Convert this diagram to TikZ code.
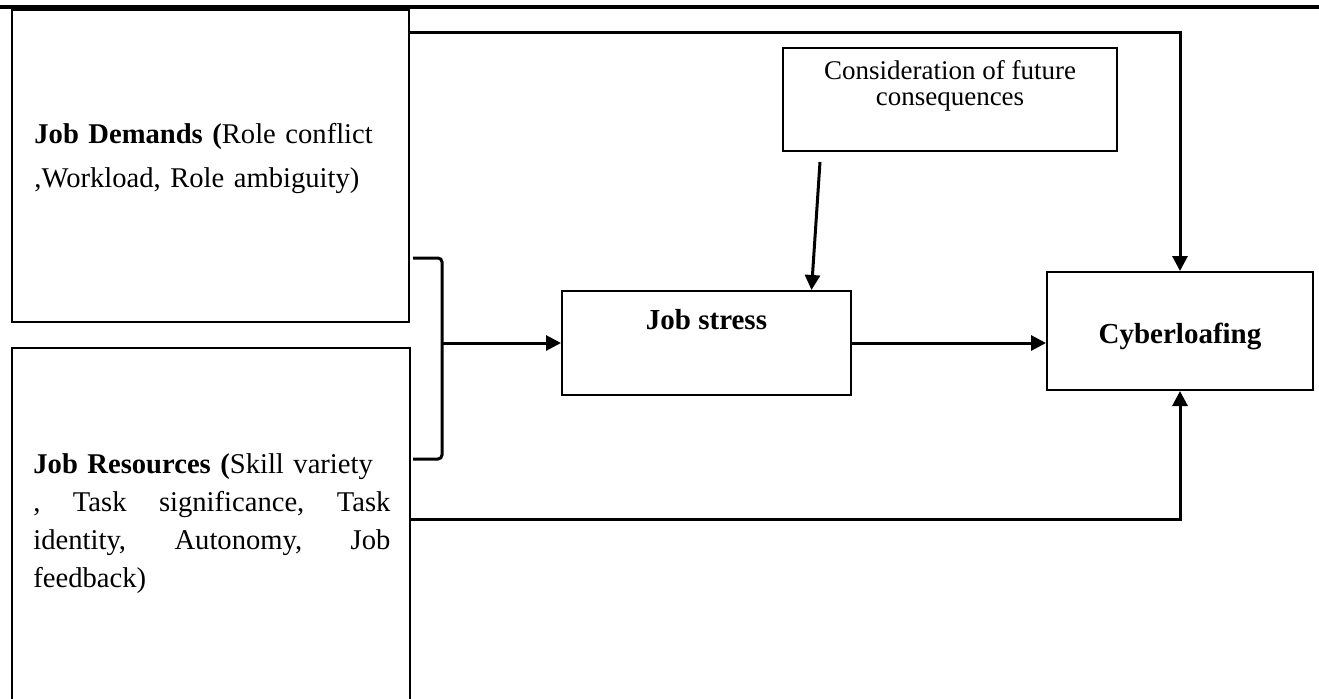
\documentclass[tikz,border=0pt]{standalone}
\usepackage{fontspec}
\setmainfont{Liberation Serif}
\usepackage{tikz}
\usetikzlibrary{arrows.meta}
\usetikzlibrary{positioning}

\begin{document}
\begin{tikzpicture}[x=0.5pt, y=-0.5pt]

   %Styles of boxes and arrows
   \tikzstyle{modelbox} = [rectangle, draw=black, line width=1pt, fill=white]
   \tikzstyle{boxtext} = [inner sep=0pt, font=\fontsize{14.5pt}{17pt}\selectfont]
   \tikzstyle{arrow} = [line width=1.5pt, -{Triangle[length=7.5pt, width=7.5pt]}]
   \tikzstyle{bracket} = [line width=1.5pt, rounded corners=2pt]

   %Frame of the picture
   \useasboundingbox (0,0) rectangle (1319,698);
   \draw[line width=2pt] (0,7) -- (1319,7);

   %Boxes
   \node[modelbox, minimum width=198.5pt, minimum height=156pt] (demands) at (210.5,166) {};
   \node[modelbox, minimum width=199pt, minimum height=186pt] (resources) at (211,534) {};
   \node[modelbox, minimum width=144.5pt, minimum height=52pt] (stress) at (706.5,343) {};
   \node[modelbox, minimum width=167pt, minimum height=51.5pt] (consider) at (950,99.5) {};
   \node[modelbox, minimum width=133pt, minimum height=59pt] (cyber) at (1180,331) {};

   %Texts
   \node[boxtext, anchor=north west, text width=178.5pt, align=left,
         font=\fontsize{14.3pt}{22pt}\selectfont] (demandstext) at (34,123)
        {\textbf{Job Demands (}Role conflict\\ ,Workload, Role ambiguity)};
   \node[boxtext, anchor=north west, text width=178.5pt, align=left,
         font=\fontsize{14.3pt}{19pt}\selectfont] (resourcestext) at (33,453)
        {\textbf{Job Resources (}Skill variety\\
         \makebox[178.5pt][s]{,\hfill Task\hfill significance,\hfill Task}\\
         \makebox[178.5pt][s]{identity,\hfill Autonomy,\hfill Job}\\
         feedback)};
   \node[boxtext, anchor=base, font=\fontsize{14.5pt}{17pt}\selectfont\bfseries] (stresstext) at (706.5,329) {Job stress};
   \node[boxtext, anchor=north, align=center,
         font=\fontsize{13.5pt}{13pt}\selectfont] (considertext) at (950,60)
        {Consideration of future\\ consequences};
   \node[boxtext, anchor=base, font=\fontsize{14.5pt}{17pt}\selectfont\bfseries] (cybertext) at (1180,343) {Cyberloafing};

   %Bracket joining the two groups
   \coordinate (brtop) at (413,258);
   \coordinate (brmid) at (442,343);
   \coordinate (brbot) at (413,459);
   \draw[bracket] (brtop) -| (brmid) |- (brbot);

   %Arrows
   \coordinate (considerout) at (820,162);
   \draw[arrow] (brmid) -- (stress.west);
   \draw[arrow] (stress.east) -- (stress.east -| cyber.west);
   \draw[arrow] (considerout) -- ([xshift=52.5pt]stress.north);
   \draw[arrow] ([yshift=-11.5pt]demands.north east) -| (cyber.north);
   \draw[arrow] ([yshift=-86pt]resources.north east) -| (cyber.south);

\end{tikzpicture}
\end{document}
